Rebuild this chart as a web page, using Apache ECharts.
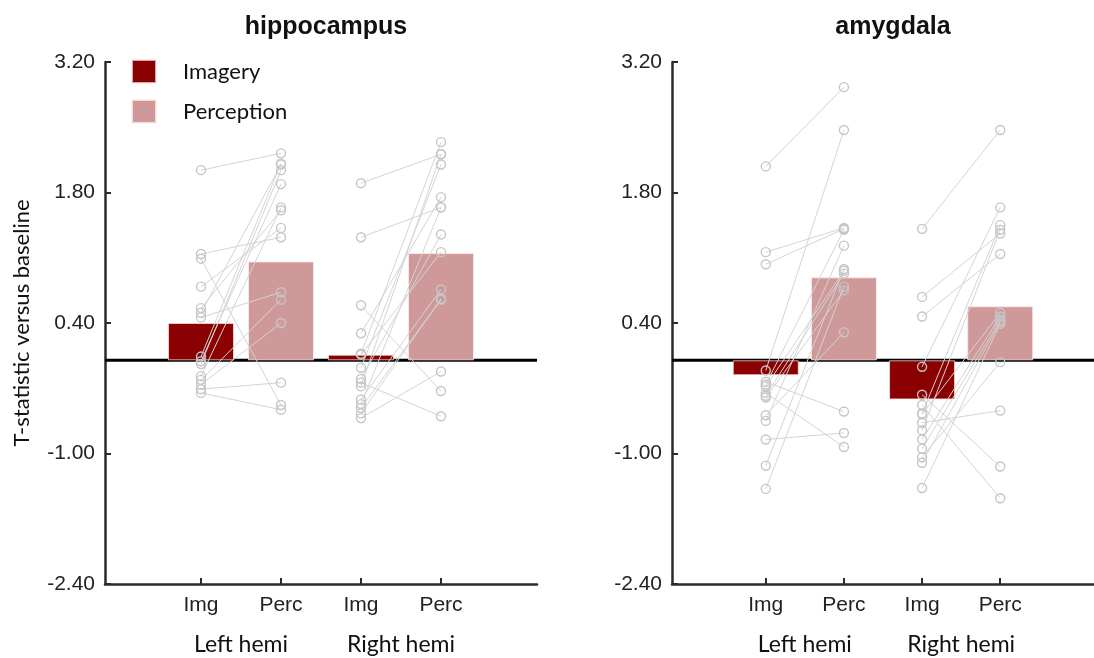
<!DOCTYPE html>
<html>
<head>
<meta charset="utf-8">
<script src="https://cdn.jsdelivr.net/npm/echarts@6/dist/echarts.min.js"></script>
<style>html,body{margin:0;padding:0;background:#fff}#c{width:1094px;height:658px}</style>
</head>
<body>
<div id="c"></div>
<script>
// ---- data ----
const categories = ['Img', 'Perc', 'Img', 'Perc'];
const hemis = ['Left hemi', 'Right hemi'];
const panelTitles = ['hippocampus', 'amygdala'];
const yTicks = [-2.40, -1.00, 0.40, 1.80, 3.20];

const hippoMeans = [0.40, 1.06, 0.06, 1.15];
const amygMeans = [-0.16, 0.89, -0.42, 0.58];

// individual subjects (index i: Img value paired with Perc value)
const hippoLeftImg  = [2.04, 1.14, 1.09, 0.79, 0.56, 0.51, 0.46, 0.04, -0.01, -0.04, -0.17, -0.21, -0.26, -0.31, -0.35];
const hippoLeftPerc = [2.22, 1.32, -0.48, 1.42, 1.61, 2.10, 0.73, 2.11, 1.89, 2.04, 1.64, 0.65, 0.40, -0.24, -0.53];
const hippoRightImg  = [1.90, 1.32, 0.59, 0.29, 0.07, 0.06, -0.08, -0.20, -0.24, -0.28, -0.42, -0.47, -0.51, -0.57, -0.62];
const hippoRightPerc = [2.21, 1.64, -0.33, 1.75, 2.34, 1.16, 2.10, 1.35, -0.60, 2.21, 0.76, 1.64, 0.65, 0.66, -0.12];
const amygLeftImg  = [2.08, 1.16, 1.03, -0.11, -0.23, -0.26, -0.28, -0.35, -0.38, -0.40, -0.59, -0.65, -0.85, -1.13, -1.38];
const amygLeftPerc = [2.93, 1.42, 1.41, 2.47, -0.55, 1.40, 0.96, -0.93, 0.93, 0.75, 0.30, 1.23, -0.78, 0.98, 0.79];
const amygRightImg  = [1.41, 0.68, 0.47, -0.07, -0.37, -0.48, -0.57, -0.58, -0.67, -0.75, -0.85, -0.95, -1.04, -1.10, -1.37];
const amygRightPerc = [2.47, 1.36, 1.14, 1.64, -1.14, -1.48, 1.45, 0.51, -0.54, 1.40, 0.47, 0.43, -0.02, 0.41, 0.39];

// ---- chart ----
const X_MIN = -0.2, X_MAX = 5.2;
const IMG_COLOR = '#8b0000', PERC_COLOR = '#cf9999';
const tickFont = 'Liberation Sans, Arial, sans-serif';
const humanFont = 'Lato, sans-serif';

function catPos(i) { return i + 1; }

const grids = [
  { left: 105, top: 62, width: 432, height: 522 },
  { left: 672, top: 62, width: 432, height: 522 }
];

const xAxes = grids.map((g, gi) => ({
  type: 'value', gridIndex: gi, min: X_MIN, max: X_MAX,
  splitLine: { show: false },
  axisLine: { show: true, onZero: false, lineStyle: { color: '#2b2b2b', width: 2.5 } },
  axisTick: { show: true, inside: true, length: 6, lineStyle: { color: '#2b2b2b', width: 2 },
              customValues: categories.map((c, i) => catPos(i)) },
  axisLabel: {
    show: true, margin: 11,
    customValues: [1, 1.5, 2, 3, 3.5, 4],
    formatter: function (v) {
      if (Math.abs(v - 1.5) < 1e-6) return '{g|' + hemis[0] + '}';
      if (Math.abs(v - 3.5) < 1e-6) return '{g|' + hemis[1] + '}';
      return categories[Math.round(v) - 1];
    },
    color: '#222', fontSize: 21, fontFamily: tickFont,
    rich: { g: { fontSize: 23, fontFamily: humanFont, color: '#111', padding: [38, 0, 0, 0] } }
  }
}));

const yAxes = grids.map((g, gi) => ({
  type: 'value', gridIndex: gi, min: yTicks[0], max: yTicks[yTicks.length - 1],
  splitLine: { show: false },
  axisLine: { show: true, onZero: false, lineStyle: { color: '#2b2b2b', width: 2.5 } },
  axisTick: { show: true, inside: true, length: 6, lineStyle: { color: '#2b2b2b', width: 2 }, customValues: yTicks },
  axisLabel: { customValues: yTicks, formatter: v => v.toFixed(2), color: '#222', fontSize: 21, fontFamily: tickFont, margin: 10 },
  name: gi === 0 ? 'T-statistic versus baseline' : '',
  nameLocation: 'middle', nameGap: 72,
  nameTextStyle: { fontSize: 22, fontFamily: humanFont, color: '#111' }
}));

const series = [];
const meansList = [hippoMeans, amygMeans];
meansList.forEach((means, gi) => {
  // zero baseline
  series.push({
    type: 'line', xAxisIndex: gi, yAxisIndex: gi, silent: true, z: 1,
    data: [[X_MIN, 0], [X_MAX, 0]], symbol: 'none',
    lineStyle: { color: '#000', width: 3 }
  });
  series.push({
    type: 'bar', name: 'Imagery', xAxisIndex: gi, yAxisIndex: gi, z: 2,
    barWidth: 66, barGap: '-100%',
    data: [[catPos(0), means[0]], [catPos(2), means[2]]],
    itemStyle: { color: IMG_COLOR, borderColor: 'rgba(255,235,235,0.7)', borderWidth: 1 }
  });
  series.push({
    type: 'bar', name: 'Perception', xAxisIndex: gi, yAxisIndex: gi, z: 2,
    barWidth: 66, barGap: '-100%',
    data: [[catPos(1), means[1]], [catPos(3), means[3]]],
    itemStyle: { color: PERC_COLOR, borderColor: 'rgba(255,235,235,0.8)', borderWidth: 1 }
  });
});

function addPairs(imgArr, percArr, xi, xp, gi) {
  imgArr.forEach((v, i) => {
    series.push({
      type: 'line', xAxisIndex: gi, yAxisIndex: gi, silent: true, z: 5,
      data: [[xi, v], [xp, percArr[i]]],
      symbol: 'circle', symbolSize: 9,
      lineStyle: { color: '#d4d4d4', width: 1 },
      itemStyle: { color: 'rgba(255,255,255,0)', borderColor: '#c6c6c6', borderWidth: 1.4 }
    });
  });
}
addPairs(hippoLeftImg, hippoLeftPerc, catPos(0), catPos(1), 0);
addPairs(hippoRightImg, hippoRightPerc, catPos(2), catPos(3), 0);
addPairs(amygLeftImg, amygLeftPerc, catPos(0), catPos(1), 1);
addPairs(amygRightImg, amygRightPerc, catPos(2), catPos(3), 1);

const chart = echarts.init(document.getElementById('c'), null, { renderer: 'canvas' });
chart.setOption({
  backgroundColor: '#fff',
  animation: false,
  title: panelTitles.map((t, i) => ({
    text: t, left: grids[i].left + grids[i].width / 2, top: 10, textAlign: 'center',
    textStyle: { fontSize: 25, fontWeight: 'bold', fontFamily: tickFont, color: '#111' }
  })),
  legend: {
    data: ['Imagery', 'Perception'], orient: 'vertical', left: 126, top: 54,
    itemWidth: 24, itemHeight: 23, itemGap: 15, icon: 'rect',
    textStyle: { fontSize: 22, fontFamily: humanFont, color: '#111', padding: [0, 0, 0, 22] },
    selectedMode: false
  },
  grid: grids,
  xAxis: xAxes,
  yAxis: yAxes,
  series: series
});
</script>
</body>
</html>
